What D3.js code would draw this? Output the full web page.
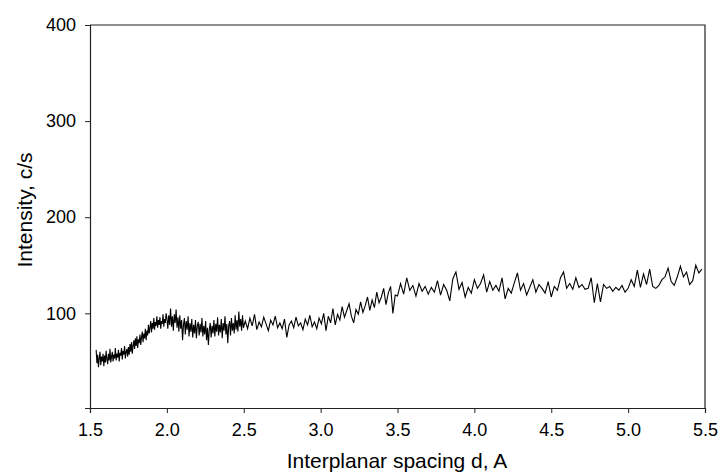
<!DOCTYPE html>
<html>
<head>
<meta charset="utf-8">
<script src="https://cdn.jsdelivr.net/npm/d3@7"></script>
<style>
  body { margin: 0; background: #fff; }
  svg { display: block; font-family: "Liberation Sans", Arial, sans-serif; }
</style>
</head>
<body>
<svg id="chart"></svg>
<script>
// interplanar spacing d (A)
let dSpacing = [
  1.540,1.545,1.550,1.555,1.560,1.565,1.570,1.575,1.580,1.585,
  1.590,1.595,1.600,1.605,1.610,1.615,1.620,1.625,1.630,1.635,
  1.640,1.645,1.650,1.655,1.660,1.665,1.670,1.675,1.680,1.685,
  1.690,1.695,1.700,1.705,1.710,1.715,1.720,1.725,1.730,1.735,
  1.740,1.745,
  1.750,1.755,1.760,1.765,1.770,1.775,1.780,1.785,1.790,1.795,
  1.800,1.805,1.810,1.815,1.820,1.825,1.830,1.835,1.840,1.845,
  1.850,1.855,1.860,1.865,1.870,1.875,1.880,1.885,1.890,1.895,
  1.900,1.905,1.910,1.915,1.920,1.925,1.930,1.935,1.940,1.945,
  1.950,1.955,1.960,1.965,1.970,1.975,1.980,1.985,1.990,1.995,
  2.000,2.006,2.012,2.018,2.024,2.030,2.036,2.042,2.048,2.054,
  2.060,2.066,2.072,2.078,2.084,2.090,2.096,2.102,2.108,2.114,
  2.120,2.126,2.132,2.138,2.144,2.150,2.156,2.162,2.168,2.174,
  2.180,2.186,2.192,2.198,2.204,2.210,2.216,2.222,2.228,2.234,
  2.240,2.246,2.252,2.258,2.264,2.270,2.276,2.282,2.288,2.294,
  2.300,2.306,2.312,2.318,2.324,2.330,2.336,2.342,2.348,2.354,
  2.360,2.366,2.372,2.378,2.384,2.390,2.396,2.402,2.408,2.414,
  2.420,2.426,2.432,2.438,2.444,2.450,2.456,2.462,2.468,2.474,
  2.480,2.486,2.492,2.498,
  2.510,2.525,2.540,2.555,2.570,2.585,2.600,2.615,2.630,2.645,
  2.660,2.675,2.690,2.705,2.720,2.735,2.750,2.765,2.780,2.795,
  2.810,2.825,2.840,2.855,2.870,2.885,2.900,2.915,2.930,2.945,
  2.960,2.975,2.990,3.005,3.020,3.035,3.050,3.065,3.080,3.095,
  3.110,3.125,3.140,3.155,3.170,3.185,3.200,3.215,3.230,3.245,
  3.260,3.275,3.290,3.305,3.320,3.335,3.350,3.365,3.380,3.395,
  3.410,3.425,3.440,3.455,3.470,3.485,
  3.50,3.52,3.54,3.56,3.58,3.60,3.62,3.64,3.66,3.68,
  3.70,3.72,3.74,3.76,3.78,3.80,3.82,3.84,3.86,3.88,
  3.90,3.92,3.94,3.96,3.98,4.00,4.02,4.04,4.06,4.08,
  4.10,4.12,4.14,4.16,4.18,4.20,4.22,4.24,4.26,4.28,
  4.30,4.32,4.34,4.36,4.38,4.40,4.42,4.44,4.46,4.48,
  4.50,4.52,4.54,4.56,4.58,4.60,4.62,4.64,4.66,4.68,
  4.70,4.72,4.74,4.76,4.78,4.80,4.82,4.84,4.86,4.88,
  4.90,4.92,4.94,4.96,4.98,5.00,5.02,5.04,5.06,5.08,
  5.10,5.12,5.14,5.16,5.18,5.20,5.22,5.24,5.26,5.28,
  5.30,5.32,5.34,5.36,5.38,5.40,5.42,5.44,5.46,5.48
];

// intensity, c/s
let intensity = [
  62,48,57,44,53,60,46,55,50,58,
  45,56,49,61,52,47,58,51,63,49,
  55,60,50,57,53,64,51,58,54,62,
  50,59,56,64,52,61,57,66,53,60,
  63,55,
  65,57,68,60,70,58,66,72,63,74,
  66,76,64,73,69,78,67,75,81,70,
  79,74,84,72,82,77,88,79,85,92,
  80,90,84,95,83,91,87,97,85,93,
  88,96,84,92,89,99,86,94,90,100,
  95,84,98,88,105,86,97,82,99,90,
  104,85,96,81,98,84,93,72,88,95,
  78,92,83,97,76,90,81,94,75,88,
  79,93,74,87,91,77,89,80,95,76,
  87,78,92,72,85,67,83,90,75,87,
  79,93,76,89,81,96,77,88,80,94,
  74,90,82,97,78,89,69,87,92,77,
  95,82,90,79,98,83,93,81,102,86,
  94,82,98,85,
  92,84,95,87,99,83,91,86,96,89,
  82,93,88,97,85,90,84,94,75,88,
  92,85,96,87,90,83,94,88,98,86,
  91,84,95,89,100,82,97,90,105,88,
  99,93,107,96,103,110,97,90,104,99,
  112,101,108,117,103,114,106,122,111,117,
  126,109,121,128,100,119,
  118,131,120,137,124,129,118,131,123,128,
  120,127,122,134,119,130,124,113,136,143,
  125,132,117,127,121,135,126,131,140,122,
  133,124,129,123,137,115,126,121,132,142,
  124,131,119,127,135,122,130,126,121,133,
  117,128,124,137,143,126,131,125,137,127,
  130,125,126,137,111,131,112,130,126,128,
  123,127,124,129,122,126,135,128,145,127,
  141,130,146,128,126,129,135,138,147,133,
  129,138,149,138,143,130,134,150,142,146
];

let xMajor = [1.5, 2.0, 2.5, 3.0, 3.5, 4.0, 4.5, 5.0, 5.5];
let xMinor = [1.75, 2.25, 2.75, 3.25, 3.75, 4.25, 4.75, 5.25];
let yMajor = [100, 200, 300, 400];
let yMinor = [50, 150, 250, 350];

let chart = {};
chart.width = 722;
chart.height = 474;
chart.left = 90;
chart.right = 705;
chart.top = 25;
chart.bottom = 408;

let svg = d3.select("#chart")
    .attr("width", chart.width)
    .attr("height", chart.height);

let x = d3.scaleLinear().domain([1.5, 5.5]).range([chart.left, chart.right]);
let y = d3.scaleLinear().domain([1.5, 400]).range([chart.bottom, chart.top]);

let points = dSpacing.map(function (d, i) { return [d, intensity[i]]; });

// frame (top and right lines)
svg.append("path")
    .attr("d", "M" + chart.left + "," + chart.top + "H" + chart.right + "V" + chart.bottom)
    .attr("fill", "none")
    .attr("stroke", "#222")
    .attr("stroke-width", 1.2);

// x axis
let gx = svg.append("g").attr("transform", "translate(0," + chart.bottom + ")");
gx.call(d3.axisBottom(x).tickValues(xMinor).tickSize(3).tickFormat(""));
gx.call(d3.axisBottom(x).tickValues(xMajor).tickSize(5).tickPadding(10).tickFormat(d3.format(".1f")));

// y axis
let gy = svg.append("g").attr("transform", "translate(" + chart.left + ",0)");
gy.call(d3.axisLeft(y).tickValues(yMinor).tickSize(3).tickFormat(""));
gy.call(d3.axisLeft(y).tickValues(yMajor).tickSize(5).tickPadding(9).tickFormat(d3.format("d")));

svg.selectAll(".domain").attr("stroke", "#222").attr("stroke-width", 1.2);
svg.selectAll(".tick line").attr("stroke", "#222");
svg.selectAll(".tick text")
    .attr("font-size", "18px")
    .attr("font-family", "Liberation Sans, Arial, sans-serif")
    .attr("fill", "#000");

// data line
let line = d3.line()
    .x(function (d) { return x(d[0]); })
    .y(function (d) { return y(d[1]); });

svg.append("path")
    .datum(points)
    .attr("d", line)
    .attr("fill", "none")
    .attr("stroke", "#000")
    .attr("stroke-width", 1.1);

// axis titles
svg.append("text")
    .attr("x", 397)
    .attr("y", 468)
    .attr("text-anchor", "middle")
    .attr("font-size", "21px")
    .text("Interplanar spacing d, A");

svg.append("text")
    .attr("transform", "translate(32,210) rotate(-90)")
    .attr("text-anchor", "middle")
    .attr("font-size", "21px")
    .text("Intensity, c/s");
</script>
</body>
</html>
